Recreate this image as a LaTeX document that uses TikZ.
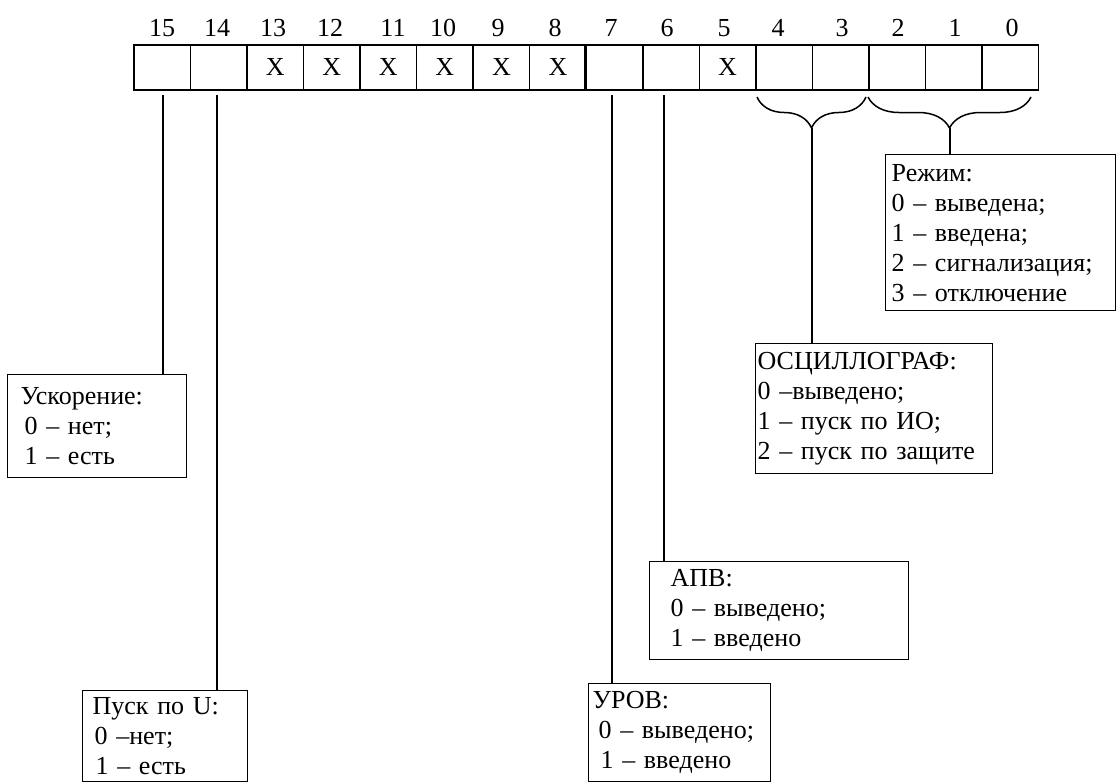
\documentclass[tikz,border=0pt]{standalone}
\usepackage{fontspec}
\setmainfont{Liberation Serif}
\usetikzlibrary{decorations.pathreplacing}

\tikzset{
    cell/.style = {draw, line width = 1.5pt, minimum width = 56.56pt,
        minimum height = 45pt, inner sep = 0pt, anchor = north west},
    bignum/.style = {font = \fontsize{26}{30}\selectfont},
    infobox/.style = {draw, line width = 1.3pt, anchor = north west,
        align = left, inner ysep = 2pt, font = \fontsize{26}{30}\selectfont},
    wire/.style = {line width = 1.5pt},
    bitbrace/.style = {line width = 1.5pt, decorate,
        decoration = {brace, mirror, amplitude = 31pt}}
}

\begin{document}
\begin{tikzpicture}[x = 1pt, y = -1pt]

    \useasboundingbox (0, 0) rectangle (1117, 782);

    \foreach \i in {0,...,15}
        \node[cell] (c\i) at ({133 + 56.56*(15 - \i)}, 44) {};

    \foreach \i/\nx in {15/162, 14/217, 13/273, 12/330, 11/393, 10/443,
        9/498, 8/555, 7/611, 6/667, 5/724, 4/778, 3/842, 2/898, 1/955, 0/1012}
        \node[bignum, anchor = base] (n\i) at (\nx, 36) {\i};

    \foreach \i in {13, 12, 11, 10, 9, 8, 5}
        \node[bignum] (x\i) at (c\i.center) {X};

    \draw[line width = 3.5pt] (c7.north west) -- (c7.south west);

    \draw[bitbrace] (757, 97) -- (866, 97);
    \draw[bitbrace] (868, 97) -- (1031, 97);

    \coordinate (l15) at (163, 95);
    \coordinate (l14) at (217, 95);
    \coordinate (l7) at (612, 95);
    \coordinate (l6) at (664, 95);
    \coordinate (b43) at (812, 128);
    \coordinate (b20) at (950, 128);

    % description boxes
    \node[infobox, inner xsep = 6pt, text width = 218pt, minimum height = 156pt]
        (rezhim) at (885, 154)
        {Режим:\\0 – выведена;\\1 – введена;\\2 – сигнализация;\\3 – отключение};

    \node[infobox, inner xsep = 2pt, text width = 233pt, minimum height = 130pt]
        (oscill) at (755, 343)
        {ОСЦИЛЛОГРАФ:\\0 –выведено;\\1 – пуск по ИО;\\2 – пуск по защите};

    \node[infobox, inner xsep = 13pt, text width = 153pt, minimum height = 103pt]
        (uskor) at (7, 374)
        {Ускорение:\\\hspace*{4pt}0 – нет;\\\hspace*{4pt}1 – есть};

    \node[infobox, inner xsep = 10pt, text width = 145pt, minimum height = 91pt]
        (pusku) at (82, 690)
        {Пуск по U:\\\hspace*{2pt}0 –нет;\\\hspace*{3pt}1 – есть};

    \node[infobox, inner xsep = 21pt, text width = 217pt, minimum height = 98pt]
        (apv) at (649, 561)
        {АПВ:\\0 – выведено;\\1 – введено};

    \node[infobox, inner xsep = 4pt, text width = 174pt, minimum height = 98pt]
        (urov) at (588, 683)
        {УРОВ:\\\hspace*{6pt}0 – выведено;\\\hspace*{8pt}1 – введено};

    \draw[wire] (l15) -- (l15 |- uskor.north);
    \draw[wire] (l14) -- (l14 |- pusku.north);
    \draw[wire] (l7) -- (l7 |- urov.north);
    \draw[wire] (l6) -- (l6 |- apv.north);
    \draw[wire] (b43) -- (b43 |- oscill.north);
    \draw[wire] (b20) -- (b20 |- rezhim.north);

\end{tikzpicture}
\end{document}
